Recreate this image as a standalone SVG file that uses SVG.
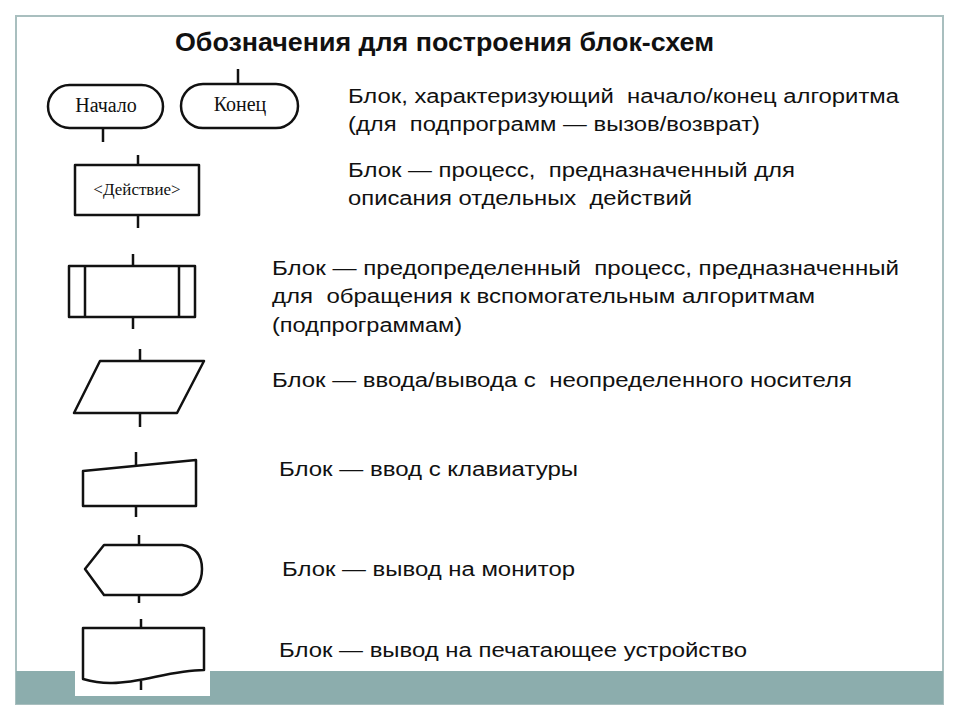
<svg xmlns="http://www.w3.org/2000/svg" width="960" height="720" viewBox="0 0 960 720">
<style>
.frame{fill:#ffffff;stroke:#a9bfbf;stroke-width:2}
.band{fill:#8cadad}
.shape{fill:#ffffff;stroke:#111111;stroke-width:2.5;stroke-linejoin:round}
.conn line{stroke:#111111;stroke-width:2.5}
.lbl{font-family:"Liberation Serif","Times New Roman",serif;font-size:20px;fill:#111111;text-anchor:middle}
.desc{font-family:"Liberation Sans",Arial,sans-serif;font-size:20px;fill:#111111;white-space:pre}
.title{font-family:"Liberation Sans",Arial,sans-serif;font-size:25px;font-weight:bold;fill:#111111}
</style>
<rect class="frame" x="16" y="16" width="927" height="688"/>
<rect class="band" x="16" y="671" width="927" height="33"/>
<rect x="75" y="671" width="135" height="25" fill="#ffffff"/>
<text class="title" x="175" y="51" textLength="539" lengthAdjust="spacingAndGlyphs">Обозначения для построения блок-схем</text>

<g id="start">
<rect class="shape" x="48" y="85" width="115" height="43" rx="21.5"/>
<text class="lbl" x="106" y="112">Начало</text>
</g>
<g id="end">
<rect class="shape" x="181" y="84" width="117" height="44" rx="22"/>
<text class="lbl" x="240" y="111">Конец</text>
</g>
<g id="process">
<rect class="shape" x="75" y="165" width="124" height="50"/>
<text class="lbl" x="137" y="195" style="font-size:17px">&lt;Действие&gt;</text>
</g>
<g id="predefined">
<rect class="shape" x="69" y="266" width="126" height="51"/>
<line class="shape" x1="85" y1="266" x2="85" y2="317"/>
<line class="shape" x1="179" y1="266" x2="179" y2="317"/>
</g>
<g id="io">
<polygon class="shape" points="100,361 204,361 177,413 74,413"/>
</g>
<g id="manual-input">
<polygon class="shape" points="83,471 196,460 196,506 83,506"/>
</g>
<g id="display">
<path class="shape" d="M85,569 L104,545 L182,545 Q202,548 202,569 Q202,590 182,595 L104,595 Z"/>
</g>
<g id="document">
<path class="shape" d="M83,628 L204,628 L204,670 C170,670 140,684 110,683 C98,683 90,681 83,679 Z"/>
</g>

<g id="connectors" class="conn">
<line x1="103" y1="128" x2="103" y2="142"/>
<line x1="238" y1="69" x2="238" y2="84"/>
<line x1="138" y1="155" x2="138" y2="165"/>
<line x1="138" y1="215" x2="138" y2="228"/>
<line x1="133" y1="254" x2="133" y2="266"/>
<line x1="133" y1="317" x2="133" y2="329"/>
<line x1="140" y1="349" x2="140" y2="361"/>
<line x1="140" y1="413" x2="140" y2="427"/>
<line x1="136" y1="452" x2="136" y2="466"/>
<line x1="136" y1="506" x2="136" y2="517"/>
<line x1="139" y1="535" x2="139" y2="545"/>
<line x1="139" y1="595" x2="139" y2="603"/>
<line x1="141" y1="619" x2="141" y2="628"/>
<line x1="141" y1="681" x2="141" y2="690"/>
</g>

<text class="desc" x="348" y="103" textLength="551" lengthAdjust="spacingAndGlyphs">Блок, характеризующий  начало/конец алгоритма</text>
<text class="desc" x="348" y="131" textLength="412" lengthAdjust="spacingAndGlyphs">(для  подпрограмм — вызов/возврат)</text>
<text class="desc" x="348" y="177" textLength="447" lengthAdjust="spacingAndGlyphs">Блок — процесс,  предназначенный для</text>
<text class="desc" x="348" y="205" textLength="344" lengthAdjust="spacingAndGlyphs">описания отдельных  действий</text>
<text class="desc" x="272" y="275" textLength="627" lengthAdjust="spacingAndGlyphs">Блок — предопределенный  процесс, предназначенный</text>
<text class="desc" x="272" y="303" textLength="543" lengthAdjust="spacingAndGlyphs">для  обращения к вспомогательным алгоритмам</text>
<text class="desc" x="272" y="332" textLength="190" lengthAdjust="spacingAndGlyphs">(подпрограммам)</text>
<text class="desc" x="272" y="387" textLength="580" lengthAdjust="spacingAndGlyphs">Блок — ввода/вывода с  неопределенного носителя</text>
<text class="desc" x="279" y="476" textLength="299" lengthAdjust="spacingAndGlyphs">Блок — ввод с клавиатуры</text>
<text class="desc" x="282" y="576" textLength="293" lengthAdjust="spacingAndGlyphs">Блок — вывод на монитор</text>
<text class="desc" x="279" y="657" textLength="468" lengthAdjust="spacingAndGlyphs">Блок — вывод на печатающее устройство</text>
</svg>
